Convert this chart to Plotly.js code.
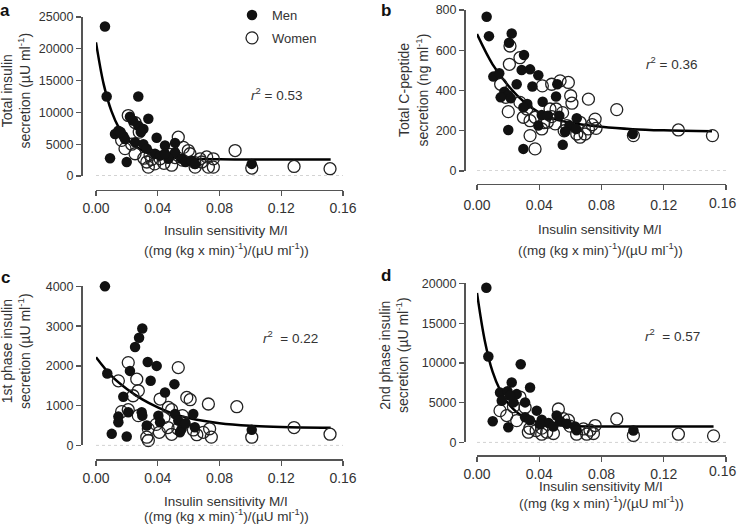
<!DOCTYPE html>
<html><head><meta charset="utf-8">
<script src="https://cdn.plot.ly/plotly-3.0.1.min.js"></script>
<style>html,body{margin:0;padding:0;background:#fff;overflow:hidden}#chart{width:739px;height:524px}</style>
</head><body><div id="chart"></div>
<script>
// ---------- Panel a: total insulin secretion ----------
const aMenX=[0.0058,0.0069,0.0274,0.0091,0.0199,0.0123,0.0145,0.0177,0.0188,0.0220,0.0339,0.0274,0.0307,0.0253,0.0307,0.0393,0.0329,0.0447,0.0512,0.0382,0.0415,0.0512,0.0469,0.0555,0.0580,0.0620,0.0642,0.1009,0.0447,0.0240,0.0160,0.0290];
const aMenY=[23500,12500,12500,2800,2200,6600,7100,6300,5800,9300,9000,7900,7400,5300,5000,6000,4300,4800,5200,3500,3200,3700,2700,2700,2200,2400,1900,1900,3500,8700,6900,6900];
const aWomenX=[0.0209,0.0253,0.0188,0.0253,0.0231,0.0166,0.0280,0.0310,0.0329,0.0339,0.0380,0.0360,0.0415,0.0490,0.0480,0.0512,0.0533,0.0566,0.0598,0.0609,0.0642,0.0674,0.0685,0.0717,0.0760,0.0760,0.0728,0.0901,0.1009,0.1283,0.1516,0.0350,0.0440,0.0560,0.0640];
const aWomenY=[9500,8400,4300,3500,5000,5600,6900,2800,2200,1400,1900,2600,2700,1700,3400,2900,6100,4500,4000,3500,1400,2700,2200,3000,2700,1400,1400,4000,1250,1500,1150,3300,2000,2500,2100];
const aFitX=[0,0.005,0.01,0.015,0.02,0.03,0.04,0.05,0.06,0.08,0.1,0.12,0.152];
const aFitY=[21000,14400,10200,7500,5800,4000,3200,2850,2700,2620,2600,2600,2600];

// ---------- Panel b: total C-peptide secretion ----------
const bMenX=[0.0062,0.0077,0.0223,0.0206,0.0302,0.0105,0.0143,0.0287,0.0341,0.0394,0.0255,0.0356,0.0516,0.0176,0.0201,0.0152,0.0217,0.0508,0.0422,0.0323,0.0298,0.0416,0.0455,0.0529,0.0641,0.0394,0.0594,0.0637,0.0566,0.0201,0.1001,0.0298,0.0551];
const bMenY=[766,670,683,637,576,469,486,502,505,476,431,420,431,394,377,366,361,370,344,333,316,278,275,275,262,226,226,209,196,204,184,110,130];
const bWomenX=[0.0212,0.0276,0.0208,0.0152,0.0185,0.0420,0.0480,0.0534,0.0587,0.0602,0.0610,0.0716,0.0898,0.0201,0.0276,0.0320,0.0341,0.0373,0.0469,0.0508,0.0452,0.0502,0.0341,0.0373,0.0662,0.0641,0.0694,0.0759,0.0765,0.0716,0.1005,0.0416,0.0577,0.0550,0.0662,0.0298,0.1294,0.1513,0.0480,0.0430,0.0560,0.0740];
const bWomenY=[621,563,530,431,366,423,431,448,440,374,337,357,305,295,341,308,250,267,308,308,242,234,176,110,168,184,184,258,212,209,176,209,226,290,242,267,204,176,270,240,200,230];
const bFitX=[0,0.01,0.02,0.03,0.04,0.05,0.06,0.08,0.1,0.12,0.151];
const bFitY=[680,530,425,345,290,258,240,220,208,202,197];

// ---------- Panel c: 1st phase insulin secretion ----------
const cMenX=[0.0058,0.0300,0.0279,0.0253,0.0335,0.0393,0.0073,0.0220,0.0354,0.0508,0.0447,0.0177,0.0145,0.0145,0.0209,0.0296,0.0300,0.0404,0.0329,0.0512,0.0533,0.0555,0.0544,0.0630,0.0640,0.0102,0.0199,0.1009,0.0415,0.0580];
const cMenY=[4000,2942,2708,2475,2100,2000,1808,1875,1625,1542,1333,1225,725,583,833,833,750,750,500,792,625,417,333,792,458,292,225,392,583,560];
const cWomenX=[0.0209,0.0533,0.0145,0.0264,0.0274,0.0415,0.0588,0.0610,0.0728,0.0912,0.0209,0.0469,0.0490,0.0166,0.0274,0.0339,0.0329,0.0339,0.0390,0.0410,0.0466,0.0490,0.0530,0.0566,0.0631,0.0653,0.0736,0.0747,0.0695,0.1009,0.1283,0.1516,0.0240,0.0560,0.0440];
const cWomenY=[2083,1958,1625,1667,1375,1167,1208,1150,1042,975,900,958,900,850,750,417,208,125,530,330,450,280,420,580,390,270,420,210,330,208,450,283,1250,750,700];
const cFitX=[0,0.01,0.02,0.03,0.04,0.05,0.06,0.08,0.1,0.12,0.152];
const cFitY=[2220,1750,1420,1160,960,800,690,560,495,465,445];

// ---------- Panel d: 2nd phase insulin secretion ----------
const dMenX=[0.0060,0.0073,0.0281,0.0223,0.0341,0.0148,0.0196,0.0255,0.0159,0.0309,0.0234,0.0212,0.0101,0.0201,0.0309,0.0384,0.0340,0.0416,0.0460,0.0512,0.0534,0.0490,0.0577,0.0630,0.0640,0.1005,0.0405];
const dMenY=[19450,10800,9830,7540,6920,6290,6450,6080,5250,5040,5040,5900,2670,1920,3170,4000,2800,2870,2450,3380,2700,2000,2350,2000,1540,1500,2300];
const dWomenX=[0.0148,0.0191,0.0255,0.0234,0.0276,0.0309,0.0330,0.0340,0.0416,0.0448,0.0491,0.0523,0.0555,0.0587,0.0598,0.0640,0.0684,0.0726,0.0759,0.0748,0.0898,0.1005,0.1294,0.1520,0.0380,0.0416,0.0705];
const dWomenY=[4000,3380,2750,4500,5710,4400,1290,1790,1800,1290,1130,4210,3000,2800,2050,1040,1700,1540,2130,1130,2960,880,1040,830,1500,1040,1040];
const dFitX=[0,0.005,0.01,0.015,0.02,0.03,0.04,0.05,0.06,0.08,0.1,0.152];
const dFitY=[18800,12800,8900,6500,4900,3200,2500,2200,2080,2010,2000,2000];

// ---------- tick / text labels ----------
const xTickVals=[0,0.04,0.08,0.12,0.16];
const xTickText=['0.00','0.04','0.08','0.12','0.16'];
const xTitleLine1='Insulin sensitivity M/I';
const xTitleLine2='((mg (kg x min)<sup>-1</sup>)/(µU ml<sup>-1</sup>))';
const yTitles=['Total insulin<br>secretion (µU ml<sup>-1</sup>)','Total C-peptide<br>secretion (ng ml<sup>-1</sup>)','1st phase insulin<br>secretion (µU ml<sup>-1</sup>)','2nd phase insulin<br>secretion (µU ml<sup>-1</sup>)'];
const panelLetters=['a','b','c','d'];
const r2Text=['<i>r</i><sup>2</sup> = 0.53','<i>r</i><sup>2</sup> = 0.36','<i>r</i><sup>2</sup>  = 0.22','<i>r</i><sup>2</sup>  = 0.57'];
const yMax=[25000,800,4000,20000];
const yDtick=[5000,200,1000,5000];

// ---------- layout geometry (pixels) ----------
const W=739,H=524;
const fx=p=>p/W, fy=p=>1-p/H;
const geo=[
 {x0:96,x1:343,yTop:14,yBot:174,xLineY:188,yLineX:81,ytX:16,ytY:88,xtX:226,xt1:229,xt2:247,lX:5,lY:8,rX:276,rY:92,stand:0,edgeLbl:false,edgeY:0},
 {x0:477,x1:726,yTop:7,yBot:169,xLineY:182,yLineX:464,ytX:413,ytY:87,xtX:600,xt1:228,xt2:247,lX:386,lY:8,rX:671,rY:60,stand:3,edgeLbl:true,edgeY:201},
 {x0:96,x1:343,yTop:285,yBot:445,xLineY:459,yLineX:81,ytX:16,ytY:350,xtX:226,xt1:501,xt2:515,lX:5,lY:276,rX:290,rY:336,stand:0,edgeLbl:false,edgeY:0},
 {x0:477,x1:726,yTop:282,yBot:442,xLineY:455,yLineX:464,ytX:394,ytY:354,xtX:601,xt1:486,xt2:502,lX:386,lY:274,rX:672,rY:334,stand:0,edgeLbl:true,edgeY:471}
];

const FONT='Liberation Sans, Arial, Helvetica, sans-serif';
const TXT='#333';
const sets=[
 [aMenX,aMenY,aWomenX,aWomenY,aFitX,aFitY],
 [bMenX,bMenY,bWomenX,bWomenY,bFitX,bFitY],
 [cMenX,cMenY,cWomenX,cWomenY,cFitX,cFitY],
 [dMenX,dMenY,dWomenX,dWomenY,dFitX,dFitY]
];

const traces=[]; const layout={
 width:W,height:H,margin:{l:0,r:0,t:0,b:0,pad:0},
 paper_bgcolor:'#fff',plot_bgcolor:'rgba(0,0,0,0)',
 font:{family:FONT,color:TXT,size:13},
 showlegend:true,
 legend:{x:fx(232),y:fy(-3),xanchor:'left',yanchor:'top',bgcolor:'rgba(0,0,0,0)',font:{size:13,color:TXT},tracegroupgap:3,itemclick:false},
 annotations:[],shapes:[]
};

sets.forEach((s,i)=>{
 const n=i===0?'':String(i+1);
 const xa='x'+n, ya='y'+n, g=geo[i];
 traces.push({type:'scatter',mode:'lines',x:s[4],y:s[5],xaxis:xa,yaxis:ya,line:{color:'#000',width:2.5,shape:'spline',smoothing:1},showlegend:false,hoverinfo:'skip',cliponaxis:false});
 traces.push({type:'scatter',mode:'markers',name:'Women',x:s[2],y:s[3],xaxis:xa,yaxis:ya,
   marker:{symbol:'circle-open',size:12,color:'#222',line:{width:1.3,color:'#222'}},showlegend:i===0,legendrank:2,legendgroup:'w',cliponaxis:false});
 traces.push({type:'scatter',mode:'markers',name:'Men',x:s[0],y:s[1],xaxis:xa,yaxis:ya,
   marker:{symbol:'circle',size:10.5,color:'#111',line:{width:0}},showlegend:i===0,legendrank:1,legendgroup:'m',cliponaxis:false});
 // the last tick label of the right-hand panels runs against the page edge and Plotly drops it,
 // so it is written as a right-aligned text at the page edge instead
 const tickText=g.edgeLbl?xTickText.map((t,k)=>k===xTickText.length-1?'':t):xTickText;
 layout['xaxis'+n]={domain:[fx(g.x0),fx(g.x1)],range:[0,0.16],anchor:'free',position:fy(g.xLineY),
   showline:true,linecolor:'#555',linewidth:1.5,ticks:'outside',ticklen:5,tickwidth:1.3,tickcolor:'#555',
   tickvals:xTickVals,ticktext:tickText,tickfont:{size:14,color:TXT,family:FONT},ticklabelstandoff:g.stand,
   showgrid:false,zeroline:false,fixedrange:true};
 layout['yaxis'+n]={domain:[fy(g.yBot),fy(g.yTop)],range:[0,yMax[i]],anchor:'free',position:fx(g.yLineX),
   showline:true,linecolor:'#555',linewidth:1.5,ticks:'outside',ticklen:5,tickwidth:1.3,tickcolor:'#555',
   dtick:yDtick[i],tick0:0,tickformat:'d',tickfont:{size:12.5,color:TXT,family:FONT},showgrid:false,zeroline:false,fixedrange:true};
 if(g.edgeLbl){
   layout.annotations.push({xref:'paper',yref:'paper',x:1,y:fy(g.edgeY),text:xTickText[xTickText.length-1],showarrow:false,xanchor:'right',yanchor:'middle',xshift:-1,font:{size:14,color:TXT,family:FONT}});
 }
 layout.shapes.push({type:'line',xref:xa,yref:ya,x0:0,x1:0.16,y0:0,y1:0,line:{color:'#aaa',width:1,dash:'dot'}});
 layout.annotations.push({xref:'paper',yref:'paper',x:fx(g.ytX),y:fy(g.ytY),text:yTitles[i],textangle:-90,showarrow:false,xanchor:'center',yanchor:'middle',font:{size:14,color:TXT,family:FONT}});
 layout.annotations.push({xref:'paper',yref:'paper',x:fx(g.xtX),y:fy(g.xt1),text:xTitleLine1,showarrow:false,xanchor:'center',yanchor:'middle',font:{size:13.5,color:TXT,family:FONT}});
 layout.annotations.push({xref:'paper',yref:'paper',x:fx(g.xtX),y:fy(g.xt2),text:xTitleLine2,showarrow:false,xanchor:'center',yanchor:'middle',font:{size:13.5,color:TXT,family:FONT}});
 layout.annotations.push({xref:'paper',yref:'paper',x:fx(g.lX),y:fy(g.lY),text:'<b>'+panelLetters[i]+'</b>',showarrow:false,xanchor:'center',yanchor:'middle',font:{size:17,color:'#111',family:FONT}});
 layout.annotations.push({xref:'paper',yref:'paper',x:fx(g.rX),y:fy(g.rY),text:r2Text[i],showarrow:false,xanchor:'center',yanchor:'middle',font:{size:13.5,color:TXT,family:FONT}});
});

Plotly.newPlot('chart',traces,layout,{staticPlot:true,displayModeBar:false});
</script></body></html>
